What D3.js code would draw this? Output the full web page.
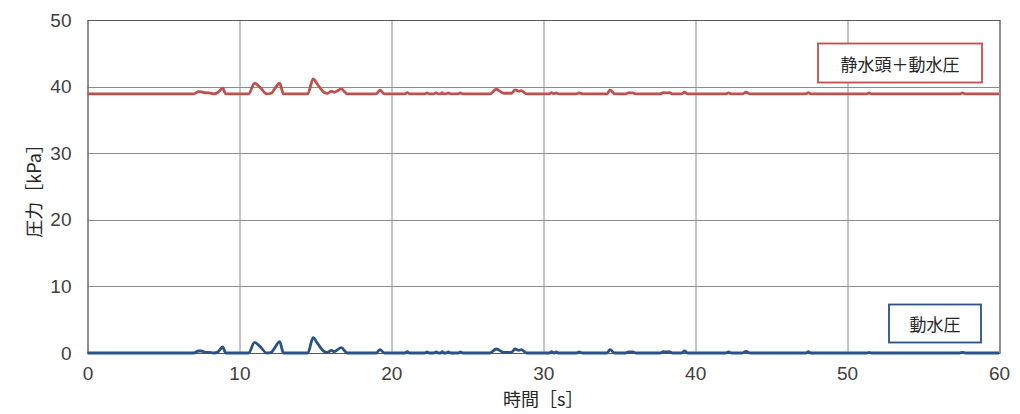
<!DOCTYPE html>
<html>
<head>
<meta charset="utf-8">
<script src="https://cdn.jsdelivr.net/npm/d3@7"></script>
<style>
  body { margin: 0; background: #fff; }
  .tick text { font-family: "Liberation Sans Narrow", "Arial Narrow", sans-serif; font-size: 19px; fill: #404040; }
  .jp { font-family: "Noto Sans CJK JP", sans-serif; fill: #262626; }
</style>
</head>
<body>
<svg width="1020" height="414"></svg>
<script>
// データ
const times = [0, 7.0, 7.3, 7.5, 7.8, 8.0, 8.3, 8.6, 8.9, 9.1, 10.6, 11.0, 11.35, 11.8, 12.1, 12.3, 12.65, 12.9,
  14.5, 14.85, 15.15, 15.6, 15.8, 16.05, 16.25, 16.4, 16.7, 17.1, 19.0, 19.25, 19.55,
  20.9, 21.05, 21.2, 22.2, 22.35, 22.5, 22.8, 22.95, 23.1, 23.25, 23.35, 23.45, 23.6, 23.75, 23.9,
  24.4, 24.55, 24.7, 26.5, 26.9, 27.4, 27.9, 28.15, 28.4, 28.55, 28.9,
  30.4, 30.55, 30.7, 30.85, 31.0, 32.2, 32.35, 32.6, 34.2, 34.4, 34.7, 35.4, 35.6, 35.9, 36.1,
  37.7, 37.9, 38.1, 38.3, 38.5, 39.1, 39.3, 39.5, 42.0, 42.2, 42.4, 43.1, 43.35, 43.6,
  47.3, 47.45, 47.6, 51.3, 51.45, 51.6, 57.4, 57.6, 57.8, 60];

const dynamicPressure = [0, 0, 0.3, 0.3, 0.1, 0.1, 0, 0.2, 0.9, 0, 0, 1.6, 1.0, 0, 0.1, 0.7, 1.7, 0,
  0, 2.3, 1.4, 0.2, 0.1, 0.4, 0.2, 0.4, 0.8, 0, 0, 0.5, 0,
  0, 0.2, 0, 0, 0.15, 0, 0, 0.15, 0, 0, 0.2, 0, 0, 0.15, 0,
  0, 0.15, 0, 0, 0.6, 0.1, 0.1, 0.6, 0.4, 0.5, 0,
  0, 0.2, 0, 0.15, 0, 0, 0.15, 0, 0, 0.5, 0, 0, 0.15, 0.15, 0,
  0, 0.2, 0.15, 0.2, 0, 0, 0.3, 0, 0, 0.15, 0, 0, 0.25, 0,
  0, 0.2, 0, 0, 0.1, 0, 0, 0.1, 0, 0];

const totalPressure = [38.9, 38.9, 39.25, 39.2, 39.05, 39.05, 38.9, 39.15, 39.75, 38.9, 38.9, 40.5, 39.9, 38.9, 39.0, 39.6, 40.5, 38.9,
  38.9, 41.15, 40.3, 39.1, 39.0, 39.3, 39.15, 39.3, 39.65, 38.9, 38.9, 39.45, 38.9,
  38.9, 39.1, 38.9, 38.9, 39.05, 38.9, 38.9, 39.05, 38.9, 38.9, 39.1, 38.9, 38.9, 39.05, 38.9,
  38.9, 39.05, 38.9, 38.9, 39.6, 39.0, 39.0, 39.5, 39.3, 39.4, 38.9,
  38.9, 39.1, 38.9, 39.05, 38.9, 38.9, 39.05, 38.9, 38.9, 39.5, 38.9, 38.9, 39.05, 39.05, 38.9,
  38.9, 39.1, 39.05, 39.1, 38.9, 38.9, 39.15, 38.9, 38.9, 39.05, 38.9, 38.9, 39.15, 38.9,
  38.9, 39.1, 38.9, 38.9, 39.05, 38.9, 38.9, 39.05, 38.9, 38.9];

const xTicks = [0, 10, 20, 30, 40, 50, 60];
const yTicks = [0, 10, 20, 30, 40, 50];

const seriesNames = ["静水頭＋動水圧", "動水圧"];
const seriesColors = ["#c0504d", "#2a5286"];

// 描画エリア
const svg = d3.select("svg"),
      margin = { top: 20, right: 21, bottom: 61, left: 87.5 },
      width = +svg.attr("width") - margin.left - margin.right,
      height = +svg.attr("height") - margin.top - margin.bottom;

const g = svg.append("g").attr("transform", `translate(${margin.left},${margin.top})`);

const x = d3.scaleLinear().domain([0, 60]).range([0, width]);
const y = d3.scaleLinear().domain([0, 50]).range([height, 0]);

// グリッド
g.append("g").selectAll("line").data(xTicks).enter().append("line")
    .attr("x1", d => Math.round(x(d)) + 0.5).attr("x2", d => Math.round(x(d)) + 0.5)
    .attr("y1", 0).attr("y2", height)
    .attr("stroke", "#8c8c8c").attr("stroke-width", 1);

g.append("g").selectAll("line").data(yTicks).enter().append("line")
    .attr("x1", 0).attr("x2", width)
    .attr("y1", d => Math.round(y(d)) + 0.5).attr("y2", d => Math.round(y(d)) + 0.5)
    .attr("stroke", "#8c8c8c").attr("stroke-width", 1);

// 枠
g.append("rect")
    .attr("x", 0.5).attr("y", 0.5).attr("width", Math.round(width)).attr("height", Math.round(height))
    .attr("fill", "none").attr("stroke", "#595959");

// 軸
const xAxis = g.append("g").attr("transform", `translate(0,${height})`)
    .call(d3.axisBottom(x).tickValues(xTicks).tickSize(0).tickPadding(14));
const yAxis = g.append("g")
    .call(d3.axisLeft(y).tickValues(yTicks).tickSize(0).tickPadding(16));
[xAxis, yAxis].forEach(a => a.select(".domain").remove());

// 線
const line = d3.line()
    .x((d, i) => x(times[i]))
    .y(d => y(d))
    .curve(d3.curveMonotoneX);

[totalPressure, dynamicPressure].forEach((vals, k) => {
    g.append("path")
        .datum(vals)
        .attr("d", line)
        .attr("fill", "none")
        .attr("stroke", seriesColors[k])
        .attr("stroke-width", 2.8)
        .attr("stroke-linejoin", "round");
});

// 凡例ラベル
const labels = [
    { name: seriesNames[0], color: seriesColors[0], x0: 818, y0: 43.5, w: 164, h: 39 },
    { name: seriesNames[1], color: seriesColors[1], x0: 889, y0: 304.5, w: 92, h: 38 }
];
labels.forEach(l => {
    svg.append("rect")
        .attr("x", l.x0).attr("y", l.y0).attr("width", l.w).attr("height", l.h)
        .attr("fill", "#fff").attr("stroke", l.color).attr("stroke-width", 1.8);
    svg.append("text")
        .attr("class", "jp")
        .attr("x", l.x0 + l.w / 2).attr("y", l.y0 + l.h / 2)
        .attr("text-anchor", "middle").attr("dominant-baseline", "central")
        .style("font-size", "17px")
        .text(l.name);
});

// 軸タイトル
svg.append("text")
    .attr("class", "jp")
    .attr("x", margin.left + width / 2).attr("y", 398)
    .attr("text-anchor", "middle").attr("dominant-baseline", "central")
    .style("font-size", "18px")
    .text("時間［s］");

svg.append("text")
    .attr("class", "jp")
    .attr("transform", `translate(33,${margin.top + height / 2}) rotate(-90)`)
    .attr("text-anchor", "middle").attr("dominant-baseline", "central")
    .style("font-size", "18px")
    .text("圧力［kPa］");
</script>
</body>
</html>
